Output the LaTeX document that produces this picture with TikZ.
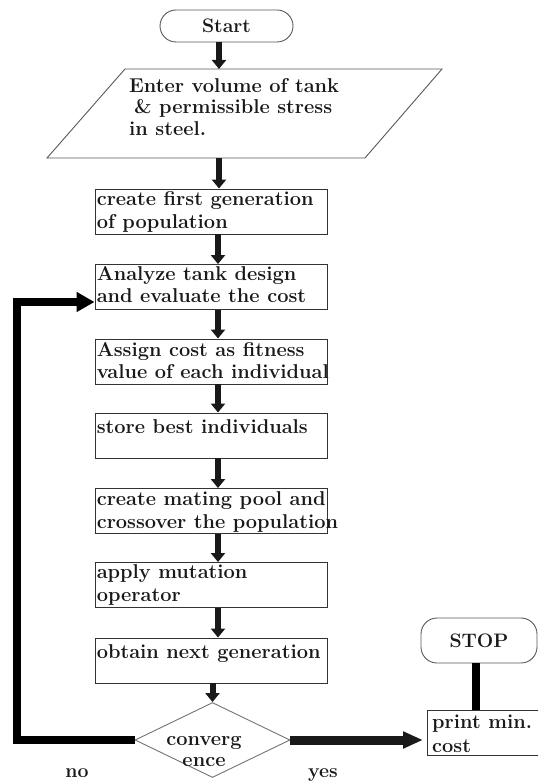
\documentclass[tikz,border=0pt]{standalone}
\usetikzlibrary{arrows.meta,shapes.geometric}
\tikzset{
  boxst/.style={draw=black!80, line width=0.9pt, minimum width=232pt, minimum height=45pt, inner sep=0pt},
  txt/.style={inner sep=0pt, align=left, anchor=north west, font=\bfseries\fontsize{20}{22.5}\selectfont, text=black!90},
  term/.style={draw=black!65, line width=0.9pt, rounded corners=16pt, inner sep=0pt, font=\bfseries\fontsize{19.5}{22}\selectfont, text=black!90},
  arr/.style={line width=6pt, black!90, -{Triangle[width=14pt,length=9pt]}},
  loopst/.style={line width=8pt, black, line join=miter, -{Triangle[width=19pt,length=18pt]}},
  yesst/.style={line width=9pt, black!90, -{Triangle[width=16pt,length=20pt]}},
  lbl/.style={inner sep=0pt, font=\bfseries\fontsize{19.5}{22}\selectfont, text=black!90},
}
\begin{document}
\begin{tikzpicture}[x=1pt,y=-1pt]
\useasboundingbox (0,0) rectangle (538,783);
\clip (0,0) rectangle (538,783);
\fill[white] (0,0) rectangle (538,783);

% start
\node[term, minimum width=133pt, minimum height=32pt] (start) at (226.5,26) {Start};

% input parallelogram
\draw[draw=black!65, line width=0.9pt] (125,69) -- (442,69) -- (365,158) -- (47,158) -- cycle;
\coordinate (pin) at (219,69);
\coordinate (pout) at (219,158);
\node[txt, font=\bfseries\fontsize{20}{21.5}\selectfont] (ptxt) at (129,77) {\strut Enter volume of tank\\\hspace*{5pt}\& permissible stress\\in steel.};

% process boxes
\node[boxst] (b1) at (211,211.5) {};
\node[boxst] (b2) at (211,287) {};
\node[boxst] (b3) at (211,361.5) {};
\node[boxst] (b4) at (211,435.5) {};
\node[boxst] (b5) at (211,511) {};
\node[boxst] (b6) at (211,585) {};
\node[boxst] (b7) at (211,660.5) {};

\node[txt] (t1) at ([shift={(2,1.5)}]b1.north west) {\strut create first generation\\of population};
\node[txt] (t2) at ([shift={(2,0)}]b2.north west) {\strut Analyze tank design\\and evaluate the cost};
\node[txt] (t3) at ([shift={(2,1.5)}]b3.north west) {\strut Assign cost as fitness\\value of each individual};
\node[txt] (t4) at ([shift={(2,4.5)}]b4.north west) {\strut store best individuals};
\node[txt] (t5) at ([shift={(2,1.5)}]b5.north west) {\strut create mating pool and\\crossover the population};
\node[txt] (t6) at ([shift={(2,0.5)}]b6.north west) {\strut apply mutation\\operator};
\node[txt] (t7) at ([shift={(2,4.5)}]b7.north west) {\strut obtain next generation};

% decision
\node[diamond, draw=black!55, line width=0.9pt, minimum width=155pt, minimum height=75pt, inner sep=0pt] (dec) at (212.5,740) {};
\node[inner sep=0pt, align=center, anchor=north, font=\bfseries\fontsize{20}{21}\selectfont, text=black!90] (dtxt) at (204,731) {\strut converg\\ence};

% print and stop
\node[draw=black!80, line width=0.9pt, minimum width=150pt, minimum height=45pt, inner sep=0pt, anchor=north west] (prn) at (427,710) {};
\node[txt, font=\bfseries\fontsize{20}{24}\selectfont] (ptext) at (432,711.2) {\strut print min.\\cost};
\node[term, minimum width=116pt, minimum height=45pt] (stop) at (479,640.5) {STOP};

% connectors
\draw[arr] ([xshift=-7.5pt]start.south) -- (pin);
\draw[arr] (pout) -- (b1.north -| pout);
\draw[arr] ([xshift=7pt]b1.south) -- ([xshift=7pt]b2.north);
\draw[arr] ([xshift=7pt]b2.south) -- ([xshift=7pt]b3.north);
\draw[arr] ([xshift=7pt]b3.south) -- ([xshift=7pt]b4.north);
\draw[arr] ([xshift=7pt]b4.south) -- ([xshift=7pt]b5.north);
\draw[arr] ([xshift=7pt]b5.south) -- ([xshift=7pt]b6.north);
\draw[arr] ([xshift=7pt]b6.south) -- ([xshift=7pt]b7.north);
\draw[arr] (b7.south -| dec.north) -- (dec.north);

\coordinate (lx) at (17,302);
\coordinate (ent) at (b2.west |- lx);
\draw[loopst] (dec.west) -- (dec.west -| lx) -- (lx) -- (ent);

\draw[yesst] (dec.east) -- ([xshift=-4pt]prn.west |- dec.east);
\draw[line width=8pt, black] ([xshift=-3pt]stop.south) -- ([xshift=-3pt]stop.south |- prn.north);

% labels
\node[lbl, anchor=base] (no) at (77,777) {no};
\node[lbl, anchor=base] (yes) at (323,777) {yes};
\end{tikzpicture}
\end{document}
